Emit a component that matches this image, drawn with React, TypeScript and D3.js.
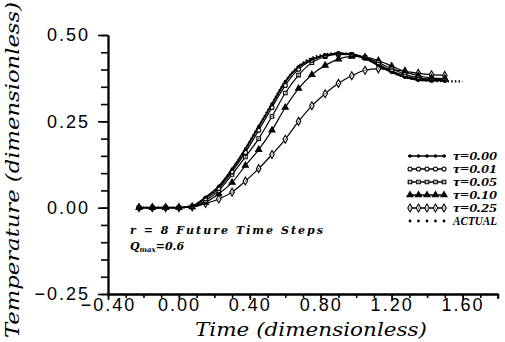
import React, { useEffect, useRef } from 'react';
import * as d3 from 'd3';

// time grid (dimensionless)
const TIME = [-0.225, -0.15, -0.075, 0, 0.075, 0.15, 0.225, 0.3, 0.375, 0.45, 0.525, 0.6, 0.675, 0.75, 0.825, 0.9, 0.975, 1.05, 1.125, 1.2, 1.275, 1.35, 1.425, 1.5];

const TAU_000 = [0, 0, 0, 0, 0.005, 0.03, 0.062, 0.112, 0.17, 0.235, 0.3, 0.365, 0.408, 0.43, 0.442, 0.447, 0.445, 0.432, 0.412, 0.392, 0.378, 0.37, 0.368, 0.368];
const TAU_001 = [0, 0, 0, 0, 0.004, 0.026, 0.056, 0.104, 0.16, 0.224, 0.29, 0.354, 0.401, 0.427, 0.44, 0.446, 0.444, 0.433, 0.415, 0.396, 0.381, 0.372, 0.369, 0.369];
const TAU_005 = [0, 0, 0, 0, 0.003, 0.02, 0.05, 0.096, 0.147, 0.2, 0.264, 0.332, 0.384, 0.42, 0.437, 0.444, 0.443, 0.435, 0.42, 0.402, 0.386, 0.376, 0.372, 0.371];
const TAU_010 = [0, 0, 0, 0, 0.002, 0.015, 0.04, 0.073, 0.122, 0.168, 0.224, 0.29, 0.345, 0.385, 0.412, 0.43, 0.438, 0.436, 0.426, 0.41, 0.394, 0.382, 0.376, 0.374];
const TAU_025 = [0, 0, 0, 0, 0.002, 0.012, 0.025, 0.045, 0.077, 0.113, 0.154, 0.198, 0.25, 0.295, 0.33, 0.36, 0.382, 0.398, 0.402, 0.4, 0.395, 0.389, 0.385, 0.383];

const ACTUAL_TIME = [-0.225, -0.15, -0.075, 0, 0.075, 0.15, 0.225, 0.3, 0.375, 0.45, 0.525, 0.6, 0.675, 0.75, 0.825, 0.9, 0.975, 1.05, 1.125, 1.2, 1.275, 1.35, 1.425, 1.5, 1.6];
const ACTUAL = [0, 0, 0, 0, 0.004, 0.028, 0.06, 0.11, 0.17, 0.236, 0.302, 0.366, 0.41, 0.434, 0.444, 0.447, 0.443, 0.432, 0.413, 0.393, 0.378, 0.37, 0.367, 0.366, 0.366];

const LEGEND_LABELS = ['τ=0.00', 'τ=0.01', 'τ=0.05', 'τ=0.10', 'τ=0.25', 'ACTUAL'];
const MARKERS = ['dot', 'circle', 'square', 'triangle', 'diamond'];

const X_LABELS = [-0.4, 0, 0.4, 0.8, 1.2, 1.6];
const Y_LABELS = [-0.25, 0, 0.25, 0.5];

const App = () => {
  const svgRef = useRef<SVGSVGElement>(null);

  useEffect(() => {
    const svg = d3.select(svgRef.current);
    svg.selectAll('*').remove();

    const width = 505;
    const height = 342;
    svg.attr('width', width).attr('height', height);

    const x = d3.scaleLinear().domain([-0.4, 1.8]).range([108, 498]);
    const y = d3.scaleLinear().domain([-0.25, 0.5]).range([294, 35]);

    const sans = '"Liberation Sans", Arial, sans-serif';
    const serif = '"DejaVu Serif", serif';

    // x axis: minor ticks every 0.1, major at labels
    const xMinor = svg.append('g').attr('transform', `translate(0,${y(-0.25)})`)
      .call(d3.axisBottom(x).ticks(22).tickSize(4).tickSizeOuter(0).tickFormat(() => ''));
    const xMajor = svg.append('g').attr('transform', `translate(0,${y(-0.25)})`)
      .call(d3.axisBottom(x).tickValues(X_LABELS).tickSize(6).tickSizeOuter(0)
        .tickFormat(d3.format('.2f')));
    // end tick at 1.80
    svg.append('line')
      .attr('x1', x(1.8)).attr('x2', x(1.8))
      .attr('y1', y(-0.25)).attr('y2', y(-0.25) + 5)
      .attr('stroke', '#000').attr('stroke-width', 1.6);

    // y axis: minor every 0.05, major at labels
    const yMinor = svg.append('g').attr('transform', `translate(${x(-0.4)},0)`)
      .call(d3.axisLeft(y).ticks(15).tickSize(7).tickSizeOuter(0).tickFormat(() => ''));
    const yMajor = svg.append('g').attr('transform', `translate(${x(-0.4)},0)`)
      .call(d3.axisLeft(y).tickValues(Y_LABELS).tickSize(10).tickSizeOuter(0).tickPadding(8)
        .tickFormat(d3.format('.2f')));

    [xMinor, xMajor, yMinor, yMajor].forEach(g => {
      g.selectAll('path').attr('stroke', '#000').attr('stroke-width', 1.8);
      g.selectAll('line').attr('stroke', '#000').attr('stroke-width', 1.6);
      g.selectAll('text')
        .attr('font-family', sans)
        .attr('font-size', 18)
        .attr('letter-spacing', 2)
        .attr('fill', '#000');
    });
    xMajor.selectAll('text').attr('y', 4).attr('dy', '0.71em');

    // axis titles
    svg.append('text')
      .attr('x', 311).attr('y', 336)
      .attr('text-anchor', 'middle')
      .attr('font-family', serif)
      .attr('font-style', 'italic')
      .attr('font-size', 19)
      .attr('textLength', 232)
      .attr('lengthAdjust', 'spacingAndGlyphs')
      .text('Time (dimensionless)');

    svg.append('text')
      .attr('transform', 'rotate(-90)')
      .attr('x', -170).attr('y', 19)
      .attr('text-anchor', 'middle')
      .attr('font-family', serif)
      .attr('font-style', 'italic')
      .attr('font-size', 19)
      .attr('textLength', 336)
      .attr('lengthAdjust', 'spacingAndGlyphs')
      .text('Temperature (dimensionless)');

    // series
    const series = [TAU_000, TAU_001, TAU_005, TAU_010, TAU_025];
    const line = d3.line<number>()
      .x((_, i) => x(TIME[i]))
      .y(d => y(d))
      .curve(d3.curveMonotoneX);

    const drawMarker = (g: any, kind: string, cx: number, cy: number) => {
      if (kind === 'dot') {
        g.append('circle').attr('cx', cx).attr('cy', cy).attr('r', 1.7).attr('fill', '#000');
        return;
      }
      const type = kind === 'circle' ? d3.symbolCircle
        : kind === 'square' ? d3.symbolSquare
        : kind === 'triangle' ? d3.symbolTriangle
        : d3.symbolDiamond;
      const size = kind === 'triangle' ? 16 : kind === 'diamond' ? 18 : 13;
      g.append('path')
        .attr('d', d3.symbol().type(type).size(size)())
        .attr('transform', `translate(${cx},${cy})`)
        .attr('fill', kind === 'triangle' ? '#000' : '#fff')
        .attr('stroke', '#000')
        .attr('stroke-width', 1.1);
      if (kind === 'diamond' || kind === 'square') {
        g.append('circle').attr('cx', cx).attr('cy', cy).attr('r', 0.6).attr('fill', '#000');
      }
    };

    // actual (dotted)
    svg.append('path')
      .datum(ACTUAL)
      .attr('d', d3.line<number>().x((_, i) => x(ACTUAL_TIME[i])).y(d => y(d)).curve(d3.curveMonotoneX))
      .attr('fill', 'none')
      .attr('stroke', '#000')
      .attr('stroke-width', 2.2)
      .attr('stroke-dasharray', '1.5,2.2');

    series.slice().reverse().forEach((vals, ri) => {
      const si = series.length - 1 - ri;
      const g = svg.append('g');
      g.append('path')
        .datum(vals)
        .attr('d', line)
        .attr('fill', 'none')
        .attr('stroke', '#000')
        .attr('stroke-width', si === 0 ? 1.8 : 1.2);
      vals.forEach((v, i) => drawMarker(g, MARKERS[si], x(TIME[i]), y(v)));
    });

    // legend
    const legend = svg.append('g');
    LEGEND_LABELS.forEach((label, i) => {
      const ly = 156 + i * 13;
      const x0 = 408;
      const x1 = 446;
      if (i < MARKERS.length) {
        legend.append('line')
          .attr('x1', x0).attr('x2', x1).attr('y1', ly).attr('y2', ly)
          .attr('stroke', '#000').attr('stroke-width', 1.4);
        d3.range(5).forEach(k => drawMarker(legend, MARKERS[i], x0 + 2 + k * 8.5, ly));
      } else {
        d3.range(5).forEach(k => legend.append('circle')
          .attr('cx', x0 + 2 + k * 8.5).attr('cy', ly).attr('r', 1.4).attr('fill', '#000'));
      }
      legend.append('text')
        .attr('x', 453).attr('y', ly + 4)
        .attr('font-family', '"Liberation Serif", serif')
        .attr('font-style', 'italic')
        .attr('font-weight', 'bold')
        .attr('font-size', i < MARKERS.length ? 12.5 : 11.5)
        .attr('textLength', 44)
        .attr('lengthAdjust', 'spacingAndGlyphs')
        .text(label);
    });

    // annotation
    svg.append('text')
      .attr('x', 130).attr('y', 234)
      .attr('font-family', serif)
      .attr('font-style', 'italic')
      .attr('font-weight', 'bold')
      .attr('font-size', 11)
      .attr('textLength', 193)
      .attr('lengthAdjust', 'spacing')
      .text('r = 8 Future Time Steps');

    const q = svg.append('text')
      .attr('x', 130).attr('y', 250)
      .attr('font-family', serif)
      .attr('font-style', 'italic')
      .attr('font-weight', 'bold')
      .attr('font-size', 11);
    q.append('tspan').text('Q');
    q.append('tspan').attr('font-size', 7).attr('dy', 2).text('max');
    q.append('tspan').attr('dy', -2).text('=0.6');
  }, []);

  return (
    <svg ref={svgRef} style={{ position: 'absolute', left: 0, top: 0, background: '#fff' }}></svg>
  );
};

export default App;
